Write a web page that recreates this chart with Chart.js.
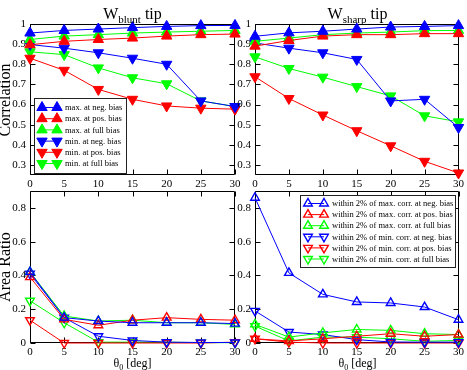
<!DOCTYPE html>
<html><head><meta charset="utf-8">
<script src="https://cdn.jsdelivr.net/npm/chart.js@4/dist/chart.umd.min.js"></script>
<style>
html,body{margin:0;padding:0;background:#fff;}
#wrap{position:relative;width:467px;height:370px;overflow:hidden;background:#fff;font-family:'Liberation Serif','Times New Roman',serif;color:#000;}
canvas{position:absolute;left:0;top:0;}
.t{position:absolute;white-space:nowrap;text-align:center;}
.sub{position:relative;}
</style></head><body>
<div id="wrap">
<canvas id="cTL" width="467" height="370"></canvas>
<canvas id="cTR" width="467" height="370"></canvas>
<canvas id="cBL" width="467" height="370"></canvas>
<canvas id="cBR" width="467" height="370"></canvas>
<div class="t" style="left:30px;width:205px;top:5px;font-size:16px;line-height:18px">W<span class="sub" style="font-size:11px;top:4px">blunt</span> tip</div>
<div class="t" style="left:255px;width:205px;top:5px;font-size:16px;line-height:18px">W<span class="sub" style="font-size:11px;top:4px">sharp</span> tip</div>
<div class="t" style="left:-45px;top:92px;width:100px;font-size:16px;line-height:16px;transform:rotate(-90deg)">Correlation</div>
<div class="t" style="left:-45px;top:259px;width:100px;font-size:16px;line-height:16px;transform:rotate(-90deg)">Area Ratio</div>
<div class="t" style="left:30px;width:205px;top:356px;font-size:12px;line-height:14px">θ<span class="sub" style="font-size:8px;top:3px">0</span> [deg]</div>
<div class="t" style="left:255px;width:205px;top:356px;font-size:12px;line-height:14px">θ<span class="sub" style="font-size:8px;top:3px">0</span> [deg]</div>
</div>
<script>
// ---------- data ----------
const xVals = [0, 5, 10, 15, 20, 25, 30];
const xTicks = [0, 5, 10, 15, 20, 25, 30];
const corrTicks = [0.3, 0.4, 0.5, 0.6, 0.7, 0.8, 0.9, 1];
const areaTicks = [0, 0.2, 0.4, 0.6, 0.8];

const corrLabels = ['max. at neg. bias', 'max. at pos. bias', 'max. at full bias',
                    'min. at neg. bias', 'min. at pos. bias', 'min. at full bias'];
const areaLabels = ['within 2% of max. corr. at neg. bias', 'within 2% of max. corr. at pos. bias',
                    'within 2% of max. corr. at full bias', 'within 2% of min. corr. at neg. bias',
                    'within 2% of min. corr. at pos. bias', 'within 2% of min. corr. at full bias'];

// W_blunt tip: correlation
const bluntMaxNeg  = [0.955, 0.968, 0.975, 0.982, 0.988, 0.992, 0.993];
const bluntMaxPos  = [0.897, 0.914, 0.923, 0.930, 0.940, 0.947, 0.950];
const bluntMaxFull = [0.923, 0.940, 0.947, 0.955, 0.960, 0.964, 0.968];
const bluntMinNeg  = [0.898, 0.880, 0.857, 0.830, 0.800, 0.618, 0.590];
const bluntMinPos  = [0.830, 0.770, 0.675, 0.626, 0.593, 0.582, 0.577];
const bluntMinFull = [0.862, 0.848, 0.782, 0.733, 0.703, 0.618, 0.590];

// W_sharp tip: correlation
const sharpMaxNeg  = [0.939, 0.956, 0.964, 0.975, 0.985, 0.988, 0.992];
const sharpMaxPos  = [0.890, 0.918, 0.940, 0.947, 0.947, 0.952, 0.952];
const sharpMaxFull = [0.914, 0.930, 0.947, 0.955, 0.960, 0.967, 0.968];
const sharpMinNeg  = [0.906, 0.880, 0.857, 0.824, 0.618, 0.626, 0.486];
const sharpMinPos  = [0.738, 0.630, 0.548, 0.470, 0.395, 0.318, 0.260];
const sharpMinFull = [0.837, 0.779, 0.736, 0.689, 0.643, 0.544, 0.514];

// W_blunt tip: area ratio
const bluntArMaxNeg  = [0.420, 0.150, 0.130, 0.120, 0.120, 0.120, 0.115];
const bluntArMaxPos  = [0.390, 0.140, 0.105, 0.135, 0.150, 0.140, 0.135];
const bluntArMaxFull = [0.420, 0.160, 0.130, 0.135, 0.120, 0.120, 0.110];
const bluntArMinNeg  = [0.410, 0.150, 0.040, 0.015, 0.005, 0.003, 0.003];
const bluntArMinPos  = [0.135, 0.000, 0.000, 0.000, 0.000, 0.000, 0.005];
const bluntArMinFull = [0.250, 0.120, 0.005, 0.005, 0.005, 0.002, 0.002];

// W_sharp tip: area ratio
const sharpArMaxNeg  = [0.860, 0.415, 0.288, 0.243, 0.237, 0.213, 0.138];
const sharpArMaxPos  = [0.025, 0.012, 0.025, 0.040, 0.055, 0.040, 0.050];
const sharpArMaxFull = [0.110, 0.035, 0.060, 0.080, 0.075, 0.055, 0.050];
const sharpArMinNeg  = [0.190, 0.065, 0.050, 0.020, 0.006, 0.005, 0.005];
const sharpArMinPos  = [0.025, 0.005, 0.000, 0.000, 0.000, 0.000, 0.000];
const sharpArMinFull = [0.100, 0.012, 0.035, 0.035, 0.025, 0.010, 0.015];

// ---------- styling ----------
const seriesColors = ['#0000ff', '#ff0000', '#00ff00', '#0000ff', '#ff0000', '#00ff00'];
const seriesRot = [0, 0, 0, 180, 180, 180];

Chart.defaults.font.family = "'Liberation Serif','Times New Roman',serif";
Chart.defaults.font.size = 11;
Chart.defaults.color = '#000';

function buildSets(arrs, labels, filled) {
  return arrs.map((arr, i) => ({
    label: labels[i],
    data: arr.map((v, j) => ({x: xVals[j], y: v})),
    borderColor: seriesColors[i],
    borderWidth: 1,
    pointStyle: 'triangle',
    pointRotation: seriesRot[i],
    pointRadius: filled ? 6 : 5,
    pointBorderWidth: filled ? 1 : 1.4,
    pointBorderColor: seriesColors[i],
    pointBackgroundColor: filled ? seriesColors[i] : 'rgba(255,255,255,0)',
    tension: 0,
    clip: false
  }));
}

const framePlugin = {
  id: 'frame',
  beforeDatasetsDraw(chart) {
    const {ctx, chartArea: a, scales: {x, y}} = chart;
    ctx.save();
    ctx.strokeStyle = '#000';
    ctx.lineWidth = 1;
    const L = Math.round(a.left) + 0.5, R = Math.round(a.right) - 0.5;
    const T = Math.round(a.top) + 0.5, B = Math.round(a.bottom) - 0.5;
    ctx.beginPath();
    ctx.rect(L, T, R - L, B - T);
    const tl = 5;
    x.ticks.forEach(t => {
      const px = Math.round(x.getPixelForValue(t.value)) + 0.5;
      ctx.moveTo(px, B); ctx.lineTo(px, B - tl);
      ctx.moveTo(px, T); ctx.lineTo(px, T + tl);
    });
    y.ticks.forEach(t => {
      const py = Math.round(y.getPixelForValue(t.value)) + 0.5;
      ctx.moveTo(L, py); ctx.lineTo(L + tl, py);
      ctx.moveTo(R, py); ctx.lineTo(R - tl, py);
    });
    ctx.stroke();
    ctx.restore();
  }
};

function tri(ctx, x, y, r, rot, fill, stroke, lw) {
  let rad = rot * Math.PI / 180;
  ctx.beginPath();
  for (let k = 0; k < 3; k++) {
    const px = x + Math.sin(rad) * r, py = y - Math.cos(rad) * r;
    if (k === 0) ctx.moveTo(px, py); else ctx.lineTo(px, py);
    rad += 2 * Math.PI / 3;
  }
  ctx.closePath();
  ctx.fillStyle = fill; ctx.fill();
  ctx.strokeStyle = stroke; ctx.lineWidth = lw; ctx.stroke();
}

const boxLegendPlugin = {
  id: 'boxLegend',
  afterDatasetsDraw(chart, args, o) {
    if (!o || !o.show) return;
    const ctx = chart.ctx;
    ctx.save();
    ctx.fillStyle = '#fff';
    ctx.fillRect(o.x, o.y, o.w, o.h);
    ctx.strokeStyle = '#222';
    ctx.lineWidth = 1;
    ctx.strokeRect(o.x + 0.5, o.y + 0.5, o.w, o.h);
    ctx.font = "8.5px 'Liberation Serif','Times New Roman',serif";
    ctx.textBaseline = 'middle';
    ctx.textAlign = 'left';
    chart.data.datasets.forEach((ds, i) => {
      const yy = o.rowY + i * o.rowH;
      ctx.beginPath();
      ctx.strokeStyle = ds.borderColor; ctx.lineWidth = 1;
      ctx.moveTo(o.m1, yy); ctx.lineTo(o.m2, yy); ctx.stroke();
      [o.m1, o.m2].forEach(mx => tri(ctx, mx, yy, ds.pointRadius, ds.pointRotation,
        ds.pointBackgroundColor, ds.pointBorderColor, ds.pointBorderWidth));
      ctx.fillStyle = '#000';
      ctx.fillText(ds.label, o.tx, yy + 0.5);
    });
    ctx.restore();
  }
};

function makeChart(id, sets, yMin, yMax, yTicks, pad, legendOpts) {
  return new Chart(document.getElementById(id), {
    type: 'line',
    data: {datasets: sets},
    plugins: [framePlugin, boxLegendPlugin],
    options: {
      responsive: false,
      animation: false,
      devicePixelRatio: 1,
      events: [],
      layout: {padding: pad},
      plugins: {legend: {display: false}, tooltip: {enabled: false},
                boxLegend: legendOpts || {show: false}},
      scales: {
        x: {
          type: 'linear', min: 0, max: 30,
          afterBuildTicks: s => { s.ticks = xTicks.map(v => ({value: v})); },
          afterFit: s => { s.height = 17; },
          grid: {display: false, drawTicks: false},
          border: {display: false},
          ticks: {padding: 3, maxRotation: 0, autoSkip: false, callback: v => String(v)}
        },
        y: {
          type: 'linear', min: yMin, max: yMax,
          afterBuildTicks: s => { s.ticks = yTicks.map(v => ({value: v})); },
          afterFit: s => { s.width = 30; },
          grid: {display: false, drawTicks: false},
          border: {display: false},
          ticks: {padding: 4, autoSkip: false, callback: v => String(+Number(v).toFixed(2))}
        }
      }
    }
  });
}

const topPadL = {left: 0, right: 232, top: 24, bottom: 178};
const topPadR = {left: 225, right: 7, top: 24, bottom: 178};
const botPadL = {left: 0, right: 232, top: 191, bottom: 10};
const botPadR = {left: 225, right: 7, top: 191, bottom: 10};

makeChart('cTL', buildSets([bluntMaxNeg, bluntMaxPos, bluntMaxFull, bluntMinNeg, bluntMinPos, bluntMinFull], corrLabels, true),
  0.25, 1, corrTicks, topPadL,
  {show: true, x: 34, y: 98, w: 92, h: 75, rowY: 107.5, rowH: 11.2, m1: 42, m2: 57, tx: 65});
makeChart('cTR', buildSets([sharpMaxNeg, sharpMaxPos, sharpMaxFull, sharpMinNeg, sharpMinPos, sharpMinFull], corrLabels, true),
  0.25, 1, corrTicks, topPadR);
makeChart('cBL', buildSets([bluntArMaxNeg, bluntArMaxPos, bluntArMaxFull, bluntArMinNeg, bluntArMinPos, bluntArMinFull], areaLabels, false),
  0, 0.9, areaTicks, botPadL);
makeChart('cBR', buildSets([sharpArMaxNeg, sharpArMaxPos, sharpArMaxFull, sharpArMinNeg, sharpArMinPos, sharpArMinFull], areaLabels, false),
  0, 0.9, areaTicks, botPadR,
  {show: true, x: 300, y: 195, w: 155, h: 72, rowY: 203.5, rowH: 11.1, m1: 308, m2: 324, tx: 332});
</script>
</body></html>
